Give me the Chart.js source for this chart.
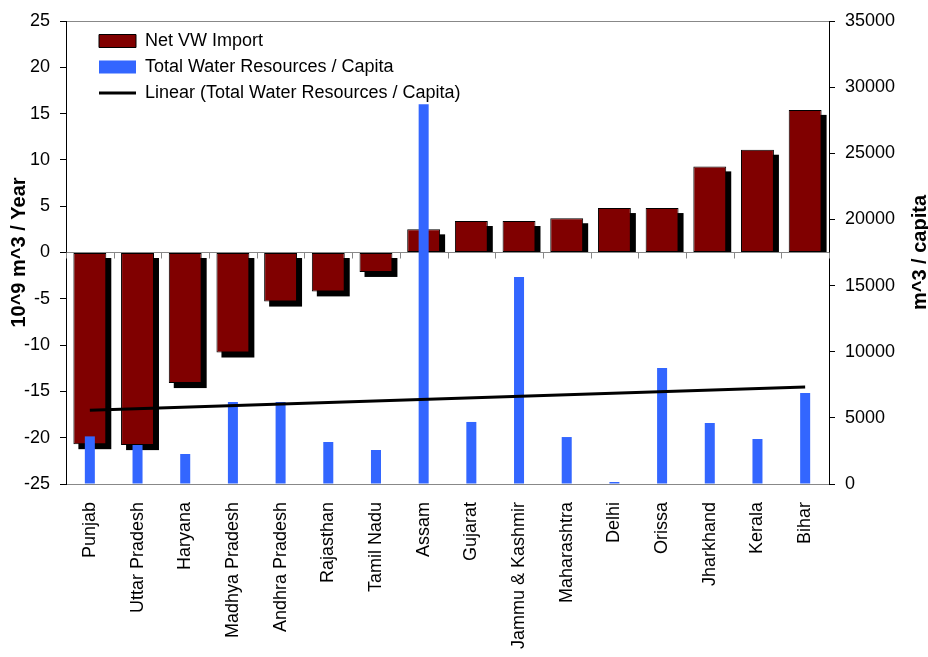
<!DOCTYPE html>
<html>
<head>
<meta charset="utf-8">
<script src="https://cdn.jsdelivr.net/npm/chart.js@4.4.0/dist/chart.umd.min.js"></script>
<style>
  body { margin: 0; background: #fff; }
  #wrap { width: 928px; height: 657px; }
</style>
</head>
<body>
<div id="wrap"><canvas id="myChart"></canvas></div>
<script>
// States along the x axis
const states = ['Punjab', 'Uttar Pradesh', 'Haryana', 'Madhya Pradesh', 'Andhra Pradesh', 'Rajasthan',
  'Tamil Nadu', 'Assam', 'Gujarat', 'Jammu & Kashmir', 'Maharashtra', 'Delhi', 'Orissa',
  'Jharkhand', 'Kerala', 'Bihar'];

// Net virtual water import, 10^9 m^3 / year (left axis)
const netImport = [-20.7, -20.8, -14.1, -10.8, -5.3, -4.2, -2.1, 2.5, 3.4, 3.4, 3.7, 4.8, 4.8, 9.3, 11.1, 15.4];

// Total water resources per capita, m^3 (right axis)
const waterPerCapita = [3600, 2950, 2270, 6200, 6200, 3175, 2570, 28700, 4690, 15650, 3550, 150, 8770, 4610, 3400, 6880];

const trendLine = [5580, null, null, null, null, null, null, null, null, null, null, null, null, null, null, 7330];

const leftTicks = { min: -25, max: 25, step: 5 };
const rightTicks = { min: 0, max: 35000, step: 5000 };

Chart.defaults.font.family = "'Liberation Sans', Arial, sans-serif";
Chart.defaults.font.size = 18;
Chart.defaults.color = '#000';

// black drop shadow behind the red bars
const barShadow = {
  id: 'barShadow',
  beforeDatasetDraw(chart, args) {
    if (args.index !== 0) return;
    const ctx = chart.ctx;
    ctx.save();
    ctx.fillStyle = '#000';
    args.meta.data.forEach(bar => {
      const { x, y, base, width } = bar.getProps(['x', 'y', 'base', 'width'], true);
      let top, bottom;
      if (y < base) { top = y + 5; bottom = base; }
      else { top = base + 5; bottom = y + 5; }
      ctx.fillRect(x - width / 2 + 5, top, width, bottom - top);
    });
    ctx.restore();
  }
};

// small category tick marks on the zero line
const zeroTicks = {
  id: 'zeroTicks',
  beforeDatasetsDraw(chart) {
    const xs = chart.scales.x, ys = chart.scales.y;
    const y0 = ys.getPixelForValue(0);
    const ctx = chart.ctx;
    ctx.save();
    ctx.strokeStyle = '#888';
    ctx.lineWidth = 1;
    ctx.beginPath();
    for (let i = 0; i <= states.length; i++) {
      const px = Math.round(xs.getPixelForValue(i - 0.5)) + 0.5;
      ctx.moveTo(px, y0);
      ctx.lineTo(px, y0 + 6);
    }
    ctx.stroke();
    ctx.restore();
  }
};

// right axis title reads bottom to top like the left one
const rightTitle = {
  id: 'rightTitle',
  afterDraw(chart) {
    const ctx = chart.ctx;
    const a = chart.chartArea;
    ctx.save();
    ctx.translate(chart.width - 8, (a.top + a.bottom) / 2);
    ctx.rotate(-Math.PI / 2);
    ctx.font = "bold 20px 'Liberation Sans', Arial, sans-serif";
    ctx.fillStyle = '#000';
    ctx.textAlign = 'center';
    ctx.textBaseline = 'middle';
    ctx.fillText('m^3 / capita', 0, 0);
    ctx.restore();
  }
};

// move the in-plot legend down and to the right
const legendInset = {
  id: 'legendInset',
  afterLayout(chart) {
    if (chart.legend) {
      chart.legend.left += 25;
      chart.legend.top += 24;
    }
  }
};

const ctx = document.getElementById('myChart').getContext('2d');
const myChart = new Chart(ctx, {
  data: {
    labels: states,
    datasets: [{
      type: 'bar',
      label: 'Net VW Import',
      data: netImport,
      yAxisID: 'y',
      backgroundColor: '#800000',
      borderColor: '#000',
      borderWidth: 1,
      borderSkipped: false,
      barPercentage: 0.69,
      categoryPercentage: 1,
      grouped: false,
      pointStyle: 'rect',
      order: 3
    }, {
      type: 'bar',
      label: 'Total Water Resources / Capita',
      data: waterPerCapita,
      yAxisID: 'y1',
      backgroundColor: '#3366FF',
      borderWidth: 0,
      barPercentage: 0.21,
      categoryPercentage: 1,
      grouped: false,
      pointStyle: 'rect',
      order: 2
    }, {
      type: 'line',
      label: 'Linear (Total Water Resources / Capita)',
      data: trendLine,
      yAxisID: 'y1',
      borderColor: '#000',
      backgroundColor: '#000',
      borderWidth: 3,
      pointRadius: 0,
      spanGaps: true,
      pointStyle: 'line',
      order: 1
    }]
  },
  options: {
    responsive: true,
    maintainAspectRatio: false,
    animation: false,
    layout: { padding: { top: 21, left: 0, right: 0, bottom: 0 } },
    plugins: {
      tooltip: { enabled: false },
      legend: {
        position: 'chartArea',
        align: 'start',
        labels: {
          usePointStyle: true,
          pointStyleWidth: 37,
          boxHeight: 13,
          padding: 8,
          color: '#000',
          font: { size: 18 },
          sort: (a, b) => a.datasetIndex - b.datasetIndex
        }
      }
    },
    scales: {
      x: {
        grid: { display: false, drawTicks: false },
        border: { display: true, color: '#888' },
        ticks: { autoSkip: false, minRotation: 90, maxRotation: 90, padding: 18, font: { size: 18 } },
        afterFit(scale) { scale.height = 173; }
      },
      y: {
        position: 'left',
        min: leftTicks.min,
        max: leftTicks.max,
        ticks: { stepSize: leftTicks.step, padding: 10, font: { size: 18 } },
        grid: {
          color: c => (c.tick && (c.tick.value === 0 || c.tick.value === 25)) ? '#888' : 'rgba(0,0,0,0)',
          tickColor: '#000',
          tickLength: 6
        },
        border: { color: '#000' },
        title: {
          display: true,
          text: '10^9 m^3 / Year',
          font: { size: 20, weight: 'bold', lineHeight: 0.8 },
          padding: { top: 11, bottom: 0 }
        },
        afterFit(scale) { scale.width = 66; }
      },
      y1: {
        position: 'right',
        min: rightTicks.min,
        max: rightTicks.max,
        ticks: { stepSize: rightTicks.step, padding: 10, font: { size: 18 }, callback: v => String(v) },
        grid: { drawOnChartArea: false, tickColor: '#000', tickLength: 6 },
        border: { color: '#000' },
        afterFit(scale) { scale.width = 99; }
      }
    }
  },
  plugins: [barShadow, zeroTicks, rightTitle, legendInset]
});
</script>
</body>
</html>
